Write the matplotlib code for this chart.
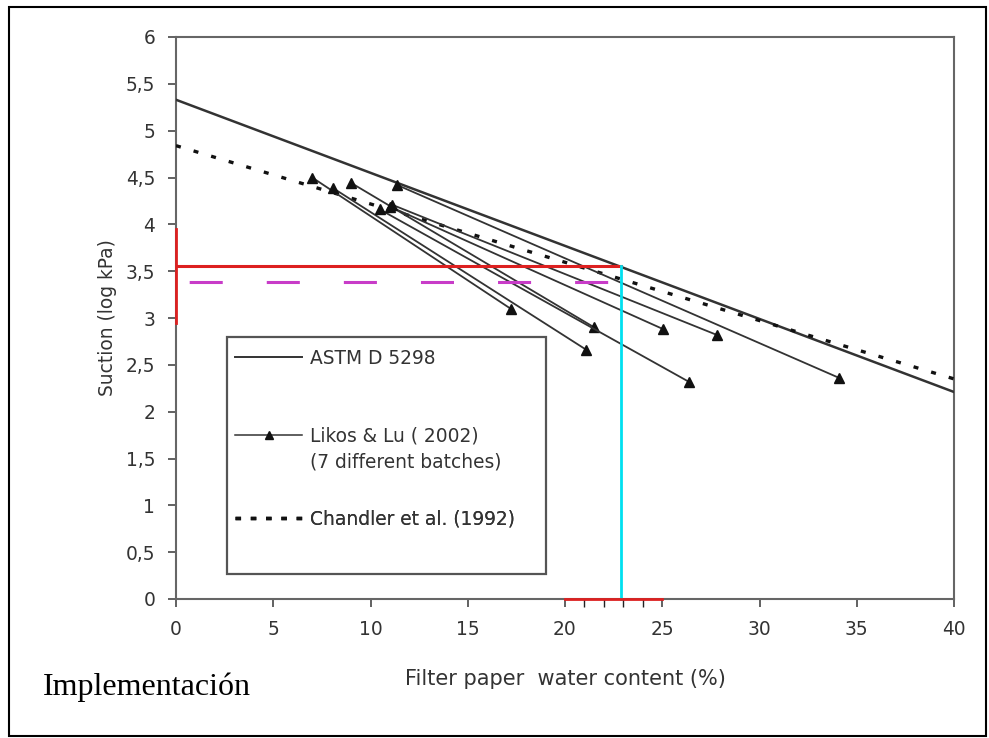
import numpy as np
import matplotlib
matplotlib.use("Agg")
import matplotlib.pyplot as plt
from matplotlib.patches import Rectangle
from matplotlib.lines import Line2D
from matplotlib.ticker import FuncFormatter

plt.rcParams['font.family'] = ['DejaVu Sans']
plt.rcParams['lines.scale_dashes'] = False

# Calibration curves (water content %, suction log kPa)
astm_w = [0, 40]
astm_s = [5.33, 2.21]
chandler_w = [0, 40]
chandler_s = [4.84, 2.35]

# Likos & Lu (2002), 7 batches: start and end points
likos_w_start = [7.0, 8.05, 9.02, 10.47, 11.0, 11.1, 11.37]
likos_s_start = [4.50, 4.39, 4.44, 4.16, 4.19, 4.21, 4.42]
likos_w_end = [17.2, 21.1, 21.5, 26.36, 25.06, 27.8, 34.1]
likos_s_end = [3.10, 2.66, 2.90, 2.32, 2.88, 2.82, 2.36]

# Reading lines drawn on top
wc_read = 22.9
suction_read = 3.55
suction_read2 = 3.38
red_y_range = [2.95, 3.95]
red_x_range = [20, 25]

x_ticks = [0, 5, 10, 15, 20, 25, 30, 35, 40]
x_minor = [21, 22, 23, 24]
y_ticks = np.arange(0, 6.01, 0.5)

W, H = 989, 738
fig = plt.figure(figsize=(W / 100, H / 100), dpi=100)
ax = fig.add_axes([176 / W, (H - 599) / H, (954 - 176) / W, (599 - 37) / H])

line_col = '#333333'
ax.plot(astm_w, astm_s, color=line_col, lw=1.8, zorder=3)
ax.plot(chandler_w, chandler_s, color='#111111', lw=2.4,
        dashes=(3.6, 9.6), zorder=3)
for i in range(len(likos_w_start)):
    ax.plot([likos_w_start[i], likos_w_end[i]],
            [likos_s_start[i], likos_s_end[i]],
            color=line_col, lw=1.3, marker='^', ms=7,
            mfc='#111111', mec='#111111', zorder=3)

# red / magenta / cyan reading lines
ax.plot([0, wc_read], [suction_read, suction_read], color='#dd2020', lw=2.2, zorder=4)
mag, = ax.plot([0, wc_read], [suction_read2, suction_read2], color='#c83cc8',
               lw=2.2, zorder=4)
mag.set_linestyle((46, (23.8, 31.7)))
ax.plot([wc_read, wc_read], [0, suction_read], color='#00e0f0', lw=2.0, zorder=4,
        clip_on=False)
ax.plot([0, 0], red_y_range, color='#dd2020', lw=2.0, zorder=5, clip_on=False)
ax.plot(red_x_range, [0, 0], color='#dd2020', lw=2.0, zorder=5, clip_on=False)

ax.set_xlim(0, 40)
ax.set_ylim(0, 6)
ax.set_xticks(x_ticks)
ax.set_xticks(x_minor, minor=True)
ax.set_yticks(y_ticks)
fmt = FuncFormatter(lambda v, p: '{:g}'.format(v).replace('.', ','))
ax.xaxis.set_major_formatter(fmt)
ax.yaxis.set_major_formatter(fmt)
ax.tick_params(axis='both', which='major', direction='out', length=6, width=1.3,
               color='#555555', labelsize=13.4, labelcolor='#333333', pad=9)
ax.tick_params(axis='x', which='minor', direction='out', length=6, width=1.0,
               color='#222222')
for s in ax.spines.values():
    s.set_color('#666666')
    s.set_linewidth(1.5)

ax.set_xlabel('Filter paper  water content (%)', fontsize=15, color='#333333',
              labelpad=22)
ax.set_ylabel('Suction (log kPa)', fontsize=13.4, color='#333333', labelpad=6)

# legend box
ax.add_patch(Rectangle((51 / 778, 25 / 562.5), (546 - 227) / 778, (574 - 337) / 562.5,
                       transform=ax.transAxes, fill=True, fc='white', ec='#555555',
                       lw=1.6, zorder=6))

def add_entry(handle, label, ypix):
    leg = ax.legend([handle], [label], loc='center left', frameon=False,
                    bbox_to_anchor=((235 - 176) / 778, (599 - ypix) / 562.5),
                    borderaxespad=0, borderpad=0, handlelength=3.6,
                    handletextpad=0.45, fontsize=13.4)
    for t in leg.get_texts():
        t.set_color('#333333')
    leg.set_zorder(7)
    ax.add_artist(leg)

add_entry(Line2D([], [], color=line_col, lw=1.4), 'ASTM D 5298', 358)
add_entry(Line2D([], [], color=line_col, lw=1.1, marker='^', ms=6,
                 mfc='#111111', mec='#111111'), 'Likos & Lu ( 2002)', 436)
add_entry(Line2D([], [], color='none'), '(7 different batches)', 462)
add_entry(Line2D([], [], color='#111111', lw=2.5, dashes=(4, 7)),
          'Chandler et al. (1992)', 519)

fig.text(43 / W, (H - 695) / H, 'Implementación', family='Liberation Serif',
         fontsize=23, ha='left', va='baseline', color='black')

fig.add_artist(Rectangle((9 / W, (H - 736) / H), (986 - 9) / W, (736 - 7) / H,
                         transform=fig.transFigure, fill=False, ec='black', lw=1.5))

fig.savefig('out.png', dpi=100)
